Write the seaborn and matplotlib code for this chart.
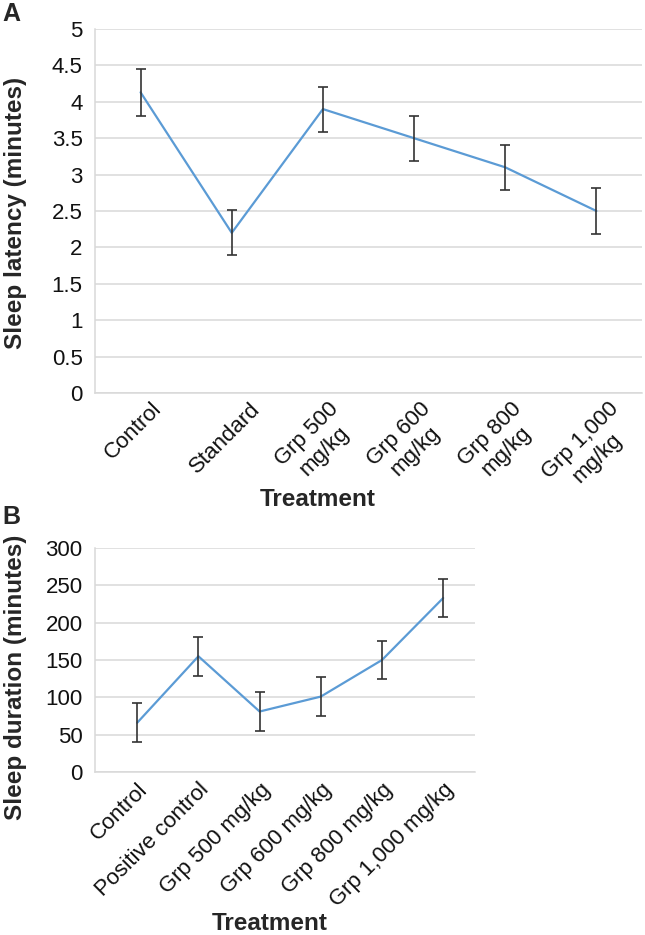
import numpy as np
import pandas as pd
import seaborn as sns
import matplotlib.pyplot as plt
from matplotlib.transforms import ScaledTranslation

# panel A - sleep latency
cats_a = ["Control", "Standard", "Grp 500\nmg/kg", "Grp 600\nmg/kg",
          "Grp 800\nmg/kg", "Grp 1,000\nmg/kg"]
latency = [4.13, 2.2, 3.9, 3.5, 3.1, 2.5]
latency_err = [0.32, 0.31, 0.31, 0.31, 0.31, 0.31]

# panel B - sleep duration
cats_b = ["Control", "Positive control", "Grp 500 mg/kg", "Grp 600 mg/kg",
          "Grp 800 mg/kg", "Grp 1,000 mg/kg"]
duration = [66, 155, 81, 101, 150, 233]
duration_err = [26, 26, 26, 26, 25, 25]

sns.set_style("white")
plt.rcParams["font.family"] = ["Liberation Sans", "DejaVu Sans"]

line_col = "#5b9bd5"
grid_col = "#d9d9d9"
err_col = "#333333"
tick_fs = 16

fig = plt.figure(figsize=(6.45, 9.35), dpi=100)
W, H = 645, 935
axA = fig.add_axes([95 / W, 1 - 393 / H, (642 - 95) / W, (393 - 29) / H])
axB = fig.add_axes([95 / W, 1 - 772 / H, (475 - 95) / W, (772 - 548) / H])


def draw(ax, cats, vals, errs):
    df = pd.DataFrame({"pos": np.arange(len(cats)), "val": vals, "err": errs})
    sns.lineplot(data=df, x="pos", y="val", ax=ax, color=line_col, lw=1.6, zorder=3)
    ax.errorbar(df["pos"], df["val"], yerr=df["err"], fmt="none", ecolor=err_col,
                elinewidth=1.2, capsize=3.5, capthick=1.2, zorder=4)
    ax.grid(axis="y", color=grid_col, lw=1.1)
    ax.set_axisbelow(True)
    for s in ["top", "right"]:
        ax.spines[s].set_visible(False)
    for s in ["left", "bottom"]:
        ax.spines[s].set_color(grid_col)
        ax.spines[s].set_linewidth(1.1)
    ax.tick_params(axis="y", length=6, width=1.1, color=grid_col, labelsize=tick_fs,
                   pad=3, labelcolor="#111111")
    ax.set_xlabel("")
    ax.set_ylabel("")


# ---- A
draw(axA, cats_a, latency, latency_err)
axA.set_ylim(0, 5)
axA.set_yticks(np.arange(0, 5.01, 0.5))
axA.set_yticklabels(["0", "0.5", "1", "1.5", "2", "2.5", "3", "3.5", "4", "4.5", "5"])
axA.set_xlim(-0.5, 5.5)
axA.set_xticks(np.arange(len(cats_a)))
axA.set_xticklabels(cats_a, rotation=45, ha="center", va="top",
                    multialignment="center", fontsize=tick_fs, color="#111111")
axA.set_xticks(np.arange(-0.5, 5.6, 1), minor=True)
axA.tick_params(axis="x", which="major", length=0, pad=4)
axA.tick_params(axis="x", which="minor", length=5, width=1.1, color=grid_col)
shift = ScaledTranslation(-7 / 100, 0, fig.dpi_scale_trans)
for lab in axA.get_xticklabels():
    lab.set_transform(lab.get_transform() + shift)

# ---- B
draw(axB, cats_b, duration, duration_err)
axB.set_ylim(0, 300)
axB.set_yticks(np.arange(0, 301, 50))
axB.set_xlim(-0.69, 5.52)
axB.set_xticks(np.arange(len(cats_b)))
axB.set_xticklabels(cats_b, rotation=45, ha="right", va="top",
                    rotation_mode="anchor", fontsize=tick_fs, color="#111111")
axB.tick_params(axis="x", which="major", length=0, pad=5)

# labels
fig.text(2 / W, 1 - 2 / H, "A", fontsize=18, fontweight="bold", ha="left", va="top")
fig.text(2 / W, 1 - 505 / H, "B", fontsize=18, fontweight="bold", ha="left", va="top")
fig.text(16 / W, 1 - 213 / H, "Sleep latency (minutes)", rotation=90,
         fontsize=17.5, fontweight="bold", ha="center", va="center")
fig.text(16 / W, 1 - 677 / H, "Sleep duration (minutes)", rotation=90,
         fontsize=17.5, fontweight="bold", ha="center", va="center")
fig.text(318 / W, 1 - 500 / H, "Treatment", fontsize=17.5, fontweight="bold",
         ha="center", va="center")
fig.text(270 / W, 1 - 924 / H, "Treatment", fontsize=17.5, fontweight="bold",
         ha="center", va="center")

fig.savefig("out.png", dpi=100)
